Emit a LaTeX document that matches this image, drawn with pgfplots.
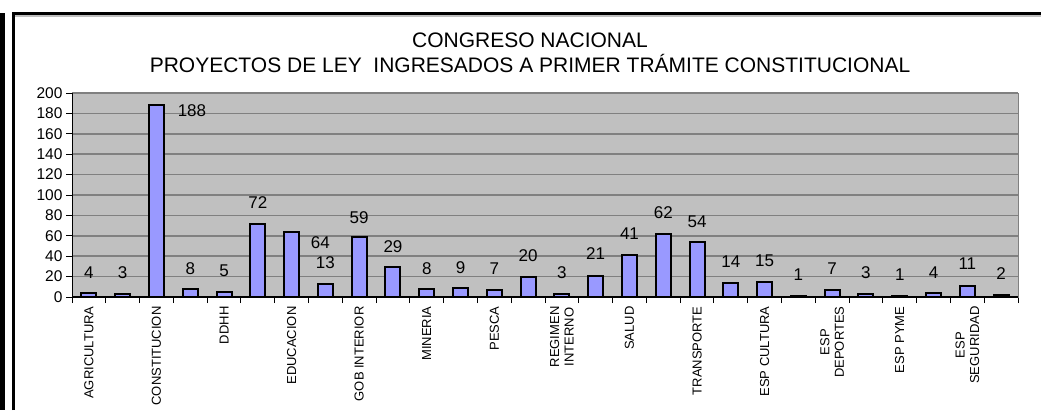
\documentclass[border=0pt]{standalone}
\usepackage{pgfplots}
\pgfplotsset{compat=1.18}
\usepackage{pgfplotstable}
\usepackage{fontspec}
\setmainfont{Liberation Sans}
\definecolor{barfill}{HTML}{9999FF}
\definecolor{plotbg}{HTML}{C0C0C0}
\definecolor{gridgray}{HTML}{808080}

% bar values, one per category (0..27)
\pgfplotstableread{
x y
0 4
1 3
2 188
3 8
4 5
5 72
6 64
7 13
8 59
9 29
10 8
11 9
12 7
13 20
14 3
15 21
16 41
17 62
18 54
19 14
20 15
21 1
22 7
23 3
24 1
25 4
26 11
27 2
}\bardata

% data labels as they sit in the original (some shifted)
\pgfplotstableread{
x y lab
0 24 4
1 24 3
3.05 183 188
3 28 8
4 26 5
5 93 72
6.85 53 64
7 34 13
8 78 59
9 49 29
10 28 8
11 29 9
12 28 7
13 41 20
14 24 3
15 43 21
16 62 41
17 83 62
18 74 54
19 35 14
20 36 15
21 22 1
22 28 7
23 24 3
24 22 1
25 24 4
26 33 11
27 23 2
}\labdata

\begin{document}
\begin{tikzpicture}
\path[use as bounding box] (0pt,0pt) rectangle (1041pt,-410pt);
% page frame
\fill[black] (0pt,-13pt) rectangle (5pt,-410pt);
\fill[gray!50] (15pt,-15pt) rectangle (1041pt,-16.5pt);
\draw[line width=3pt] (13.5pt,-410pt) -- (13.5pt,-13.5pt) -- (1041pt,-13.5pt);
% title
\node[font=\fontsize{21}{25}\selectfont, anchor=base] at (530pt,-47pt) {CONGRESO NACIONAL};
\node[font=\fontsize{21}{25}\selectfont, anchor=base] at (530pt,-72pt) {PROYECTOS DE LEY\ \ INGRESADOS A PRIMER TRÁMITE CONSTITUCIONAL};

\begin{axis}[
    at={(72pt,-297pt)}, anchor=south west,
    width=946pt, height=204pt, scale only axis,
    xmin=-0.5, xmax=27.5,
    ymin=0, ymax=200,
    ytick={0,20,...,200},
    ymajorgrids,
    grid style={gridgray, line width=1.6pt},
    axis background/.style={fill=plotbg},
    axis line style={gridgray, line width=0.8pt},
    tick align=outside, tick pos=left,
    major tick length=6pt,
    every tick/.style={black, line width=1pt},
    /pgf/number format/assume math mode=true,
    yticklabel style={font=\fontsize{15.5}{15.5}\selectfont},
    xtick={-0.5,0.5,...,27.5},
    xticklabels={},
    extra x ticks={0,2,...,26},
    extra x tick labels={AGRICULTURA, CONSTITUCION, DDHH, EDUCACION, GOB INTERIOR, MINERIA, PESCA, {REGIMEN\\INTERNO}, SALUD, TRANSPORTE, ESP CULTURA, {ESP\\DEPORTES}, ESP PYME, {ESP\\SEGURIDAD}},
    extra x tick style={major tick length=0pt, grid=none,
        xticklabel style={rotate=90, anchor=east, align=center, xshift=-6pt,
            font=\fontsize{13}{14.5}\selectfont}},
]
\addplot[ybar, bar width=15pt, fill=barfill, draw=black, line width=2pt]
    table[x=x, y=y] {\bardata};
\addplot[only marks, mark=none, nodes near coords, point meta=explicit symbolic,
    nodes near coords style={anchor=center, font=\fontsize{17}{17}\selectfont}]
    table[x=x, y=y, meta=lab] {\labdata};
\draw[black, line width=1.5pt] (rel axis cs:0,1) -- (rel axis cs:0,0) -- (rel axis cs:1,0);
\end{axis}
\end{tikzpicture}
\end{document}
